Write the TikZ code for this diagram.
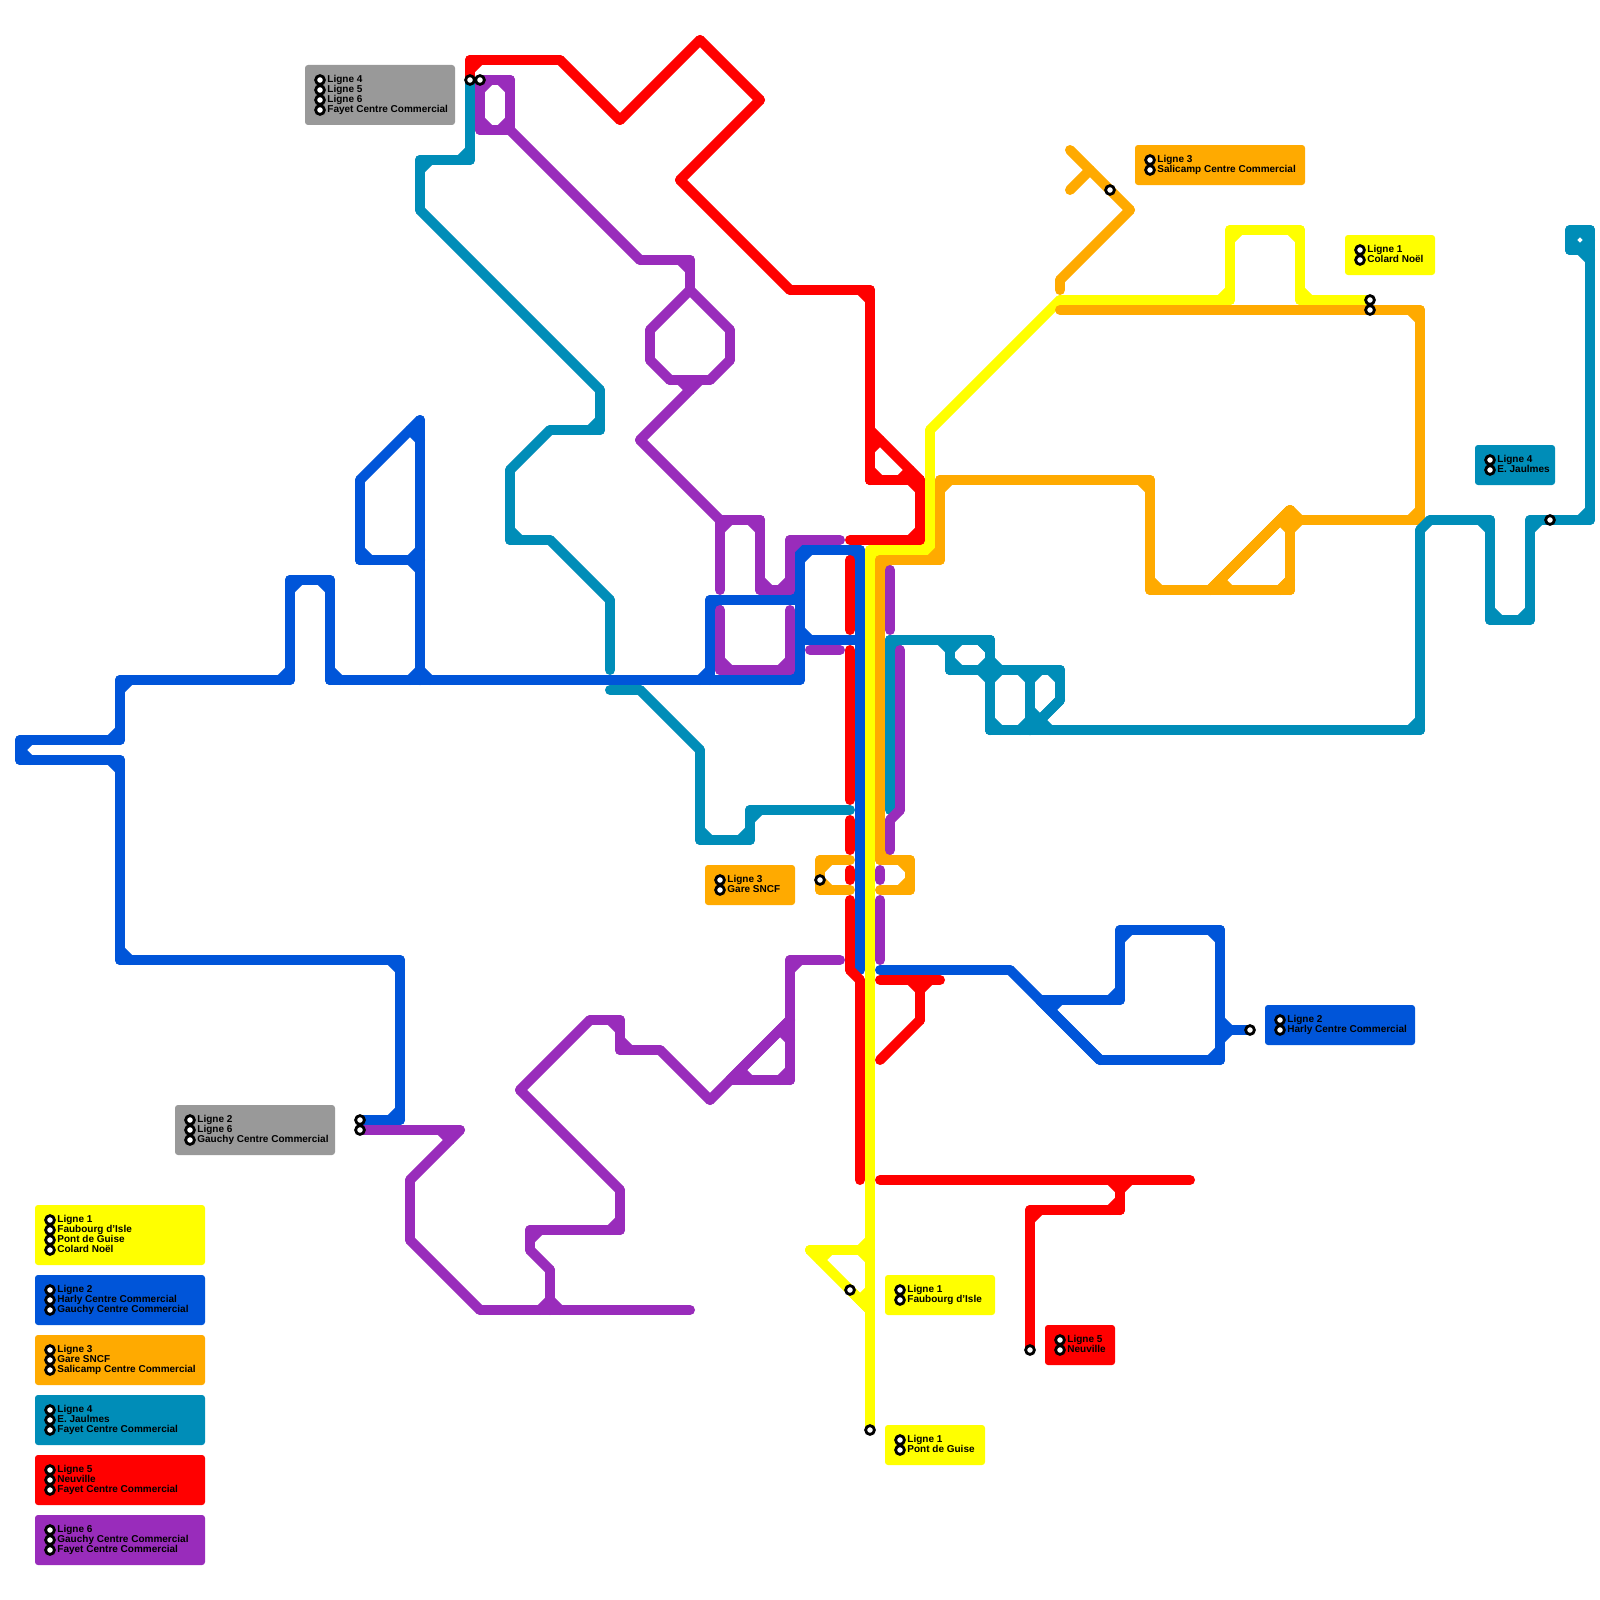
\documentclass[tikz,border=0pt]{standalone}
\usepackage{fontspec}
\setmainfont{Liberation Sans}
\usepackage{xcolor}
\usetikzlibrary{calc}

\definecolor{ligneA}{HTML}{FFFF00}
\definecolor{ligneB}{HTML}{0055D9}
\definecolor{ligneC}{HTML}{FFAA00}
\definecolor{ligneD}{HTML}{008DB8}
\definecolor{ligneE}{HTML}{FF0000}
\definecolor{ligneF}{HTML}{992CBB}
\definecolor{gris}{HTML}{999999}

\tikzset{
  trait/.style={draw=#1, line width=5pt, line cap=round},
  boite/.style={fill=#1, rounded corners=1.5pt},
  station/.style={circle, draw=black, fill=white, line width=1.4pt, inner sep=0pt, minimum size=4.4pt},
  texte/.style={inner sep=0pt, font=\bfseries\fontsize{5}{5}\selectfont}
}

% a line: its segments, and a cut across each square or sharp corner
\newcommand{\ligne}[2]{%
  \foreach \x/\y [count=\i, remember=\xa as \xb (initially 0), remember=\ya as \yb (initially 0),
                  remember=\x as \xa (initially 0), remember=\y as \ya (initially 0)] in {#2} {
    \ifnum\i>1 \draw[trait=#1] (\xa,\ya) -- (\x,\y); \fi
    \ifnum\i>2
      \pgfmathsetmacro\pdt{(\xb-\xa)/100*(\x-\xa)/100+(\yb-\ya)/100*(\y-\ya)/100}
      \pgfmathtruncatemacro\coupe{(\pdt>0.0001)||((\pdt>-0.0001)&&((\xb==\xa)||(\yb==\ya)))}
      \ifnum\coupe=1
        \pgfmathsetmacro\da{(\pdt>0.0001) ? (((\xb!=\xa)&&(\yb!=\ya)) ? 7.07 : 10) : 5}
        \pgfmathsetmacro\db{(\pdt>0.0001) ? (((\x!=\xa)&&(\y!=\ya)) ? 7.07 : 10) : 5}
        \draw[trait=#1] ($(\xa,\ya)!\da pt!(\xb,\yb)$) -- ($(\xa,\ya)!\db pt!(\x,\y)$);
      \fi
    \fi
  }%
}

% a label: name, colour, corners, lines of text
\newcommand{\cartouche}[7]{%
  \fill[boite=#2] (#3,#4) rectangle (#5,#6);
  \foreach \txt [count=\i] in {#7} {
    \pgfmathsetmacro\yy{#4+5+10*\i}
    \node[station] (#1-s\i) at ({#3+15},\yy) {};
    \node[texte, anchor=base west] (#1-t\i) at ({#3+22},{\yy+2.4}) {\txt};
  }%
}

\begin{document}
\begin{tikzpicture}[x=0.5pt, y=-0.5pt]
\useasboundingbox (0,0) rectangle (1600,1600);

% --- Ligne 1 ---------------------------------------------------------
\ligne{ligneA}{1370/300,1300/300,1300/230,1230/230,1230/300,1060/300,930/430,930/550,870/550,870/1250,810/1250,870/1310,870/1430}
\ligne{ligneA}{810/1250,870/1250,870/1310,850/1290}

% --- Ligne 2 ---------------------------------------------------------
\ligne{ligneB}{860/970,860/550,800/550,800/680,330/680,330/580,290/580,290/680,120/680,120/740,20/740,20/760,120/760,120/960,400/960,400/1120,360/1120}
\ligne{ligneB}{860/640,800/640,800/600}
\ligne{ligneB}{800/550,800/600,710/600,710/680,620/680}
\ligne{ligneB}{420/680,420/420,360/480,360/560,420/560,420/500}
\ligne{ligneB}{360/560,420/560,420/680,330/680}
\ligne{ligneB}{420/560,420/680,500/680}
\ligne{ligneB}{880/970,1010/970,1100/1060,1220/1060,1220/930,1120/930,1120/1000,1040/1000,1100/1060}
\ligne{ligneB}{1220/930,1220/1030,1250/1030}
\ligne{ligneB}{1220/1060,1220/1030,1250/1030}

% --- Ligne 3 ---------------------------------------------------------
\ligne{ligneC}{1060/310,1420/310,1420/520,1300/520,1290/510,1210/590}
\ligne{ligneC}{1420/520,1290/520,1290/590,1150/590,1150/480,940/480,940/560,880/560,880/860,910/860,910/890,880/890}
\ligne{ligneC}{1210/590,1290/510,1290/590,1210/590,1290/510}
\ligne{ligneC}{850/860,820/860,820/890,850/890}
\ligne{ligneC}{1060/290,1060/280,1130/210,1070/150}
\ligne{ligneC}{1070/190,1090/170}

% --- Ligne 4 ---------------------------------------------------------
\ligne{ligneD}{470/80,470/160,420/160,420/210,600/390,600/430,550/430,510/470,510/540,550/540,610/600,610/670}
\ligne{ligneD}{610/690,640/690,700/750,700/840,750/840,750/810,850/810}
\ligne{ligneD}{890/810,890/640,990/640,990/730,1420/730,1420/530,1430/520,1490/520,1490/620,1530/620,1530/520,1590/520,1590/230,1570/230,1570/250,1590/250,1590/230}
\ligne{ligneD}{1570/250,1590/250,1590/300}
\ligne{ligneD}{890/640,950/640,950/670,990/670,990/730}
\ligne{ligneD}{950/670,950/640,990/640,990/670,950/670}
\ligne{ligneD}{990/640,990/670,1060/670,1060/700,1030/730,1030/670,990/670,990/730}
\ligne{ligneD}{1030/730,1030/670,1060/670}
\ligne{ligneD}{1060/700,1030/730,1420/730}
\ligne{ligneD}{990/730,1030/730,1030/670}

% --- Ligne 5 ---------------------------------------------------------
\ligne{ligneE}{470/80,470/60,560/60,620/120,700/40,760/100,680/180,790/290,870/290,870/480,920/480,920/540,850/540}
\ligne{ligneE}{870/480,870/430,920/480,870/480}
\ligne{ligneE}{850/560,850/630}
\ligne{ligneE}{850/650,850/800}
\ligne{ligneE}{850/820,850/850}
\ligne{ligneE}{850/870,850/880}
\ligne{ligneE}{850/900,850/970,860/980,860/1180}
\ligne{ligneE}{880/980,920/980,920/1020,880/1060}
\ligne{ligneE}{940/980,920/980,920/1020}
\ligne{ligneE}{880/1180,1120/1180,1120/1210,1030/1210,1030/1350}
\ligne{ligneE}{1190/1180,1120/1180,1120/1210}

% --- Ligne 6 ---------------------------------------------------------
\ligne{ligneF}{480/80,510/80,510/130,480/130,480/80,510/80}
\ligne{ligneF}{510/130,640/260,690/260,690/290,650/330,650/360,670/380,710/380,730/360,730/330,690/290}
\ligne{ligneF}{670/380,700/380,640/440,720/520,760/520,760/590,790/590,790/540,840/540}
\ligne{ligneF}{720/590,720/520,760/520}
\ligne{ligneF}{720/610,720/670,790/670,790/610}
\ligne{ligneF}{810/650,840/650}
\ligne{ligneF}{890/570,890/630}
\ligne{ligneF}{900/650,900/810,890/820,890/850}
\ligne{ligneF}{880/870,880/880}
\ligne{ligneF}{880/900,880/960}
\ligne{ligneF}{840/960,790/960,790/1080,730/1080,790/1020,790/1080}
\ligne{ligneF}{790/1020,710/1100,660/1050,620/1050,620/1020,590/1020,520/1090,620/1190,620/1230,530/1230,530/1250,550/1270,550/1310,480/1310,410/1240,410/1180,460/1130,360/1130}
\ligne{ligneF}{690/1310,550/1310,550/1270}

% --- Stations --------------------------------------------------------
\node[station] (fayetD) at (470,80) {};
\node[station] (fayetF) at (480,80) {};
\node[station] (gauchyB) at (360,1120) {};
\node[station] (gauchyF) at (360,1130) {};
\node[station] (colard) at (1370,300) {};
\node[station] (salicampH) at (1370,310) {};
\node[station] (salicamp) at (1110,190) {};
\node[station] (jaulmes) at (1550,520) {};
\node[station] (gare) at (820,880) {};
\node[station] (faubourg) at (850,1290) {};
\node[station] (pont) at (870,1430) {};
\node[station] (neuville) at (1030,1350) {};
\node[station] (harly) at (1250,1030) {};

% --- Labels on the map -----------------------------------------------
\cartouche{lfayet}{gris}{305}{65}{455}{125}{Ligne 4,Ligne 5,Ligne 6,Fayet Centre Commercial}
\cartouche{lgauchy}{gris}{175}{1105}{335}{1155}{Ligne 2,Ligne 6,Gauchy Centre Commercial}
\cartouche{lsalicamp}{ligneC}{1135}{145}{1305}{185}{Ligne 3,Salicamp Centre Commercial}
\cartouche{lcolard}{ligneA}{1345}{235}{1435}{275}{Ligne 1,Colard Noël}
\cartouche{ljaulmes}{ligneD}{1475}{445}{1555}{485}{Ligne 4,E. Jaulmes}
\cartouche{lgare}{ligneC}{705}{865}{795}{905}{Ligne 3,Gare SNCF}
\cartouche{lharly}{ligneB}{1265}{1005}{1415}{1045}{Ligne 2,Harly Centre Commercial}
\cartouche{lfaubourg}{ligneA}{885}{1275}{995}{1315}{Ligne 1,Faubourg d'Isle}
\cartouche{lneuville}{ligneE}{1045}{1325}{1115}{1365}{Ligne 5,Neuville}
\cartouche{lpont}{ligneA}{885}{1425}{985}{1465}{Ligne 1,Pont de Guise}

% --- Legend ----------------------------------------------------------
\cartouche{legA}{ligneA}{35}{1205}{205}{1265}{Ligne 1,Faubourg d'Isle,Pont de Guise,Colard Noël}
\cartouche{legB}{ligneB}{35}{1275}{205}{1325}{Ligne 2,Harly Centre Commercial,Gauchy Centre Commercial}
\cartouche{legC}{ligneC}{35}{1335}{205}{1385}{Ligne 3,Gare SNCF,Salicamp Centre Commercial}
\cartouche{legD}{ligneD}{35}{1395}{205}{1445}{Ligne 4,E. Jaulmes,Fayet Centre Commercial}
\cartouche{legE}{ligneE}{35}{1455}{205}{1505}{Ligne 5,Neuville,Fayet Centre Commercial}
\cartouche{legF}{ligneF}{35}{1515}{205}{1565}{Ligne 6,Gauchy Centre Commercial,Fayet Centre Commercial}

\end{tikzpicture}
\end{document}
